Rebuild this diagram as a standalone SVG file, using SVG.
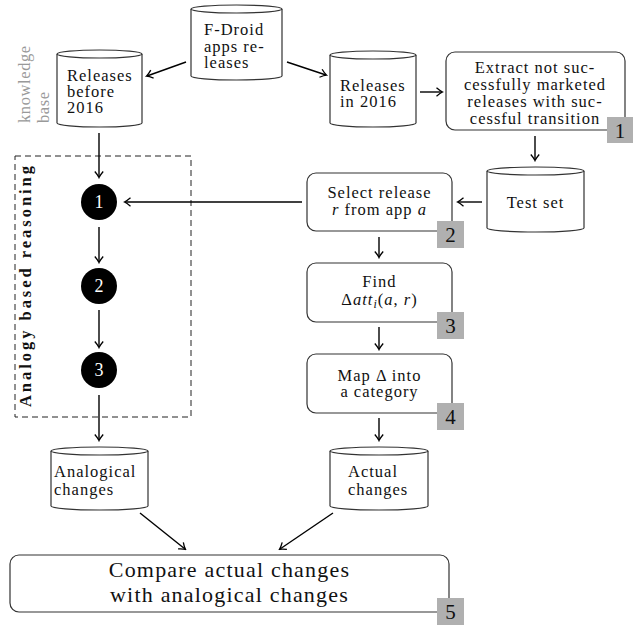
<svg xmlns="http://www.w3.org/2000/svg" width="644" height="625" viewBox="0 0 644 625">
<style>
.t{font-family:"Liberation Serif","Times New Roman",serif;font-size:16.5px;letter-spacing:1px;fill:#111}
.c{text-anchor:middle}
.box{fill:#fff;stroke:#333;stroke-width:1.2}
.cyl{fill:#fff;stroke:#333;stroke-width:1.2}
.badge{fill:#b0b0b0}
.bn{font-family:"Liberation Serif","Times New Roman",serif;font-size:21px;text-anchor:middle;fill:#111}
.circ{fill:#000}
.cn{font-family:"Liberation Serif","Times New Roman",serif;font-size:18px;text-anchor:middle;fill:#fff}
.con line{stroke:#000;stroke-width:1.4;fill:none;marker-end:url(#ah)}
.it{font-style:italic}
</style>
<defs>
<marker id="ah" viewBox="-7 -5 9 10" markerWidth="9" markerHeight="10" refX="0" refY="0" orient="auto" markerUnits="userSpaceOnUse">
<path d="M-5.5,-4.2 Q-1.8,-1 0.6,0 Q-1.8,1 -5.5,4.2" fill="none" stroke="#000" stroke-width="1.3"/>
</marker>
</defs>

<g id="fdroid">
<path class="cyl" d="M191,9 L191,76 A45.5,4 0 0 0 282,76 L282,9"/>
<ellipse class="cyl" cx="236.5" cy="9" rx="45.5" ry="4"/>
<text class="t" x="204" y="35">F-Droid</text>
<text class="t" x="204" y="51.5">apps re-</text>
<text class="t" x="204" y="68">leases</text>
</g>

<g id="releases-before">
<path class="cyl" d="M57,54 L57,123 A42.5,4 0 0 0 142,123 L142,54"/>
<ellipse class="cyl" cx="99.5" cy="54" rx="42.5" ry="4"/>
<text class="t" x="67" y="81">Releases</text>
<text class="t" x="67" y="97">before</text>
<text class="t" x="67" y="113">2016</text>
</g>

<g id="knowledge-base">
<text class="t" transform="translate(30,123) rotate(-90)" style="fill:#999;letter-spacing:0.6px">knowledge</text>
<text class="t" transform="translate(49,123) rotate(-90)" style="fill:#999;letter-spacing:0.6px">base</text>
</g>

<g id="releases-2016">
<path class="cyl" d="M330,55 L330,123 A43,4 0 0 0 416,123 L416,55"/>
<ellipse class="cyl" cx="373" cy="55" rx="43" ry="4"/>
<text class="t" x="340" y="91">Releases</text>
<text class="t" x="340" y="107">in 2016</text>
</g>

<g id="extract">
<rect class="box" x="446" y="52" width="179" height="78" rx="9"/>
<text class="t c" x="535" y="73">Extract not suc-</text>
<text class="t c" x="535" y="90">cessfully marketed</text>
<text class="t c" x="535" y="107">releases with suc-</text>
<text class="t c" x="535" y="124">cessful transition</text>
<rect class="badge" x="607" y="117" width="26" height="26"/>
<text class="bn" x="620" y="138">1</text>
</g>

<g id="test-set">
<path class="cyl" d="M487,171 L487,228 A48.5,4 0 0 0 584,228 L584,171"/>
<ellipse class="cyl" cx="535.5" cy="171" rx="48.5" ry="4"/>
<text class="t c" x="535.5" y="208">Test set</text>
</g>

<g id="select">
<rect class="box" x="307" y="173" width="145" height="58" rx="9"/>
<text class="t c" x="379.5" y="198">Select release</text>
<text class="t c" x="379.5" y="215"><tspan class="it">r</tspan> from app <tspan class="it">a</tspan></text>
<rect class="badge" x="437" y="221" width="27" height="27"/>
<text class="bn" x="450.5" y="242">2</text>
</g>

<g id="find">
<rect class="box" x="307" y="263" width="145" height="59" rx="9"/>
<text class="t c" x="379.5" y="287">Find</text>
<text class="t c" x="379.5" y="305">Δ<tspan class="it">att</tspan><tspan class="it" font-size="12" dy="3">i</tspan><tspan dy="-3">(</tspan><tspan class="it">a</tspan>, <tspan class="it">r</tspan>)</text>
<rect class="badge" x="437" y="312" width="27" height="27"/>
<text class="bn" x="450.5" y="333">3</text>
</g>

<g id="map">
<rect class="box" x="307" y="354" width="145" height="59" rx="9"/>
<text class="t c" x="379.5" y="381">Map Δ into</text>
<text class="t c" x="379.5" y="397">a category</text>
<rect class="badge" x="437" y="403" width="27" height="27"/>
<text class="bn" x="450.5" y="424">4</text>
</g>

<g id="abr">
<rect x="15" y="156" width="176" height="261" fill="none" stroke="#222" stroke-width="1" stroke-dasharray="6,4"/>
<text class="t" transform="translate(31,407) rotate(-90)" style="font-weight:bold" textLength="242" lengthAdjust="spacing">Analogy based reasoning</text>
</g>

<g id="step1">
<circle class="circ" cx="99" cy="202" r="18"/>
<text class="cn" x="99" y="208">1</text>
</g>
<g id="step2">
<circle class="circ" cx="99" cy="286" r="18"/>
<text class="cn" x="99" y="292">2</text>
</g>
<g id="step3">
<circle class="circ" cx="99" cy="370" r="18"/>
<text class="cn" x="99" y="376">3</text>
</g>

<g id="analogical">
<path class="cyl" d="M51,451 L51,506 A48.5,4 0 0 0 148,506 L148,451"/>
<ellipse class="cyl" cx="99.5" cy="451" rx="48.5" ry="4"/>
<text class="t" x="54" y="477">Analogical</text>
<text class="t" x="54" y="495">changes</text>
</g>

<g id="actual">
<path class="cyl" d="M330,451 L330,506 A49,4 0 0 0 428,506 L428,451"/>
<ellipse class="cyl" cx="379" cy="451" rx="49" ry="4"/>
<text class="t" x="348" y="477">Actual</text>
<text class="t" x="348" y="495">changes</text>
</g>

<g id="compare">
<rect class="box" x="10" y="555" width="439" height="57" rx="9"/>
<text class="t c" x="229.5" y="577" style="font-size:22px;letter-spacing:1.2px">Compare actual changes</text>
<text class="t c" x="229.5" y="602" style="font-size:22px;letter-spacing:1.2px">with analogical changes</text>
<rect class="badge" x="437" y="598" width="27" height="27"/>
<text class="bn" x="450.5" y="619">5</text>
</g>

<g id="connectors" class="con">
<line x1="186" y1="62" x2="147" y2="76"/>
<line x1="287" y1="62" x2="326" y2="75"/>
<line x1="420" y1="92" x2="442" y2="92"/>
<line x1="535" y1="136" x2="535" y2="160"/>
<line x1="482" y1="202" x2="458" y2="202"/>
<line x1="302" y1="202" x2="125" y2="202"/>
<line x1="99" y1="133" x2="99" y2="177"/>
<line x1="99" y1="227" x2="99" y2="262"/>
<line x1="99" y1="310" x2="99" y2="347"/>
<line x1="99" y1="395" x2="99" y2="440"/>
<line x1="379" y1="237" x2="379" y2="257"/>
<line x1="379" y1="327" x2="379" y2="349"/>
<line x1="379" y1="418" x2="379" y2="440"/>
<line x1="140" y1="513" x2="185" y2="549"/>
<line x1="333" y1="513" x2="280" y2="549"/>
</g>
</svg>
